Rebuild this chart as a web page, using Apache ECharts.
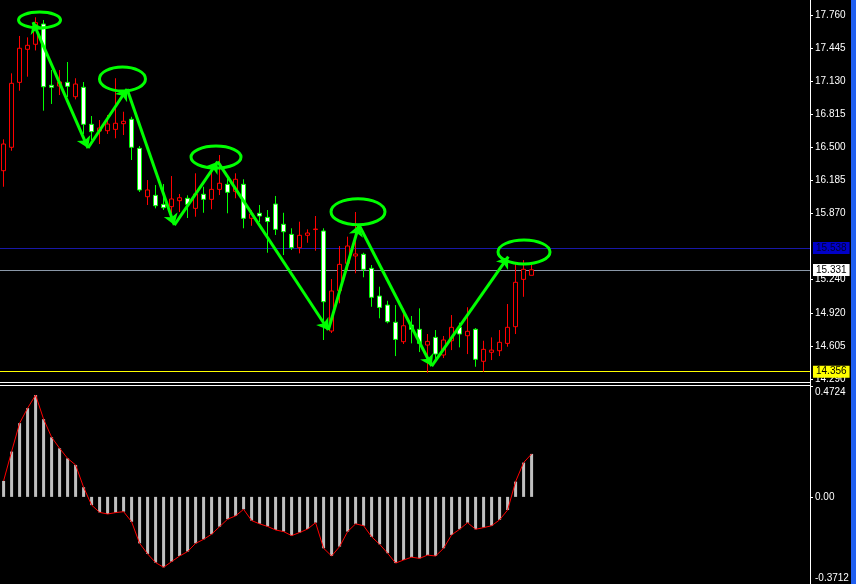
<!DOCTYPE html>
<html><head><meta charset="utf-8">
<script src="https://cdn.jsdelivr.net/npm/echarts@6/dist/echarts.min.js"></script>
<style>html,body{margin:0;padding:0;background:#000;}#c{width:856px;height:584px;}</style>
</head><body><div id="c"></div>
<script>
// ---- data ----
const opens = [16.276,16.499,17.118,17.433,17.481,17.674,17.090,17.083,17.118,16.981,
17.071,16.718,16.654,16.657,16.670,16.724,16.766,16.489,16.028,16.041,
15.955,15.933,15.990,16.013,15.917,16.051,16.003,16.098,16.146,16.079,
16.146,15.822,15.870,15.831,15.958,15.765,15.669,15.542,15.660,15.715,
15.701,14.748,15.132,15.393,15.463,15.479,15.345,15.081,14.995,14.831,
14.646,14.805,14.764,14.614,14.687,14.519,14.655,14.783,14.703,14.764,
14.459,14.545,14.560,14.630,14.789,15.240,15.279];
const closes = [16.530,17.109,17.443,17.471,17.687,17.076,17.071,17.121,17.080,17.102,
16.718,16.648,16.683,16.721,16.728,16.747,16.499,16.092,16.092,15.942,
15.923,16.006,16.018,15.955,16.054,16.003,16.098,16.156,16.070,16.194,
15.822,15.863,15.844,15.791,15.717,15.694,15.542,15.660,15.682,15.720,
15.027,15.129,15.383,15.558,15.482,15.336,15.069,14.973,14.836,14.668,
14.798,14.764,14.630,14.649,14.528,14.662,14.783,14.719,14.745,14.478,
14.573,14.566,14.640,14.783,15.212,15.336,15.331];
const highs = [16.575,17.204,17.560,17.547,17.738,17.712,17.236,17.236,17.312,17.157,
17.121,16.797,16.759,16.807,17.157,16.838,16.790,16.511,16.187,16.139,
16.149,16.225,16.054,16.041,16.251,16.123,16.266,16.425,16.203,16.251,
16.194,15.901,15.949,15.901,16.035,15.875,15.727,15.790,15.717,15.844,
15.727,15.243,15.558,15.647,15.882,15.494,15.377,15.170,15.036,14.995,
14.964,14.891,14.964,14.719,14.757,14.700,14.900,14.827,14.974,14.776,
14.655,14.687,14.757,15.005,15.396,15.424,15.377];
const lows = [16.123,16.466,17.038,17.172,17.422,16.848,16.912,16.997,16.978,16.956,
16.626,16.568,16.530,16.626,16.585,16.616,16.378,16.073,15.949,15.917,
15.901,15.872,15.882,15.825,15.837,15.875,15.908,16.044,15.870,16.013,
15.727,15.751,15.787,15.494,15.663,15.472,15.520,15.488,15.589,15.513,
14.662,14.729,15.012,15.329,15.298,15.260,14.979,14.869,14.821,14.509,
14.624,14.630,14.547,14.350,14.471,14.490,14.566,14.592,14.528,14.407,
14.359,14.471,14.509,14.598,14.719,15.074,15.279];
const macd = [0.068,0.193,0.314,0.378,0.434,0.331,0.254,0.207,0.164,0.136,
0.041,-0.035,-0.066,-0.073,-0.067,-0.063,-0.106,-0.198,-0.243,-0.280,
-0.300,-0.276,-0.252,-0.233,-0.198,-0.181,-0.159,-0.127,-0.095,-0.081,
-0.053,-0.101,-0.115,-0.126,-0.141,-0.148,-0.165,-0.152,-0.137,-0.110,
-0.219,-0.252,-0.212,-0.148,-0.115,-0.123,-0.170,-0.202,-0.240,-0.282,
-0.269,-0.257,-0.262,-0.248,-0.252,-0.219,-0.162,-0.138,-0.110,-0.138,
-0.131,-0.123,-0.098,-0.056,0.065,0.146,0.183];
const priceTicks = [17.760,17.445,17.130,16.815,16.500,16.185,15.870,15.240,14.920,14.605,14.290];
const macdTicks = [0.4724,0,-0.3712];
const levelValues = [15.538,15.331,14.356];
// zigzag annotation vertices [bar index, price]
const zigzag = [[3.675,17.693],[10.55,16.492],[15.43,17.055],[21.34,15.758],[26.76,16.362],
[40.59,14.757],[44.43,15.758],[53.51,14.414],[63.09,15.456]];
// ellipse annotation centres [bar index, price]
const ellipseCentres = [[4.49,17.712],[14.86,17.150],[26.55,16.406],[44.3,15.885],[65.05,15.501]];

// ---- style ----
const RADII = [[21,8],[23,12],[25,11],[27,13],[26,12]];
const LEVEL_STYLE = [
  {line:'#1818a8', bg:'#0000c8', fg:'#000030'},
  {line:'#8a98a8', bg:'#ffffff', fg:'#000000'},
  {line:'#ffff00', bg:'#ffff00', fg:'#000000'}
];
const FONT = 'Liberation Sans';
const XMIN = -0.45, XMAX = 100.8;

const candleData = opens.map((o,i)=>[i,o,closes[i],lows[i],highs[i]]);
const macdData = macd.map((v,i)=>[i,v]);
const segs = [];
for (let k=1;k<zigzag.length;k++) {
  const s = {coords:[zigzag[k-1],zigzag[k]]};
  if (k===1) s.symbol = ['arrow','arrow'];
  segs.push(s);
}

const chart = echarts.init(document.getElementById('c'), null, {renderer:'canvas'});
const option = {
  backgroundColor:'#000000',
  animation:false,
  grid:[
    {left:0, right:46, top:0, height:381, outerBoundsMode:'none', containLabel:false},
    {left:0, right:46, top:386, bottom:0, outerBoundsMode:'none', containLabel:false}
  ],
  xAxis:[
    {type:'value', gridIndex:0, min:XMIN, max:XMAX, show:false},
    {type:'value', gridIndex:1, min:XMIN, max:XMAX, show:false}
  ],
  yAxis:[
    {type:'value', gridIndex:0, position:'right', min:14.2713, max:17.903,
     splitLine:{show:false},
     axisLine:{show:true, onZero:false, lineStyle:{color:'#ffffff', width:1}},
     axisTick:{show:true, length:3, lineStyle:{color:'#ffffff'}, customValues:priceTicks},
     axisLabel:{color:'#ffffff', fontFamily:FONT, fontSize:10, margin:5,
       customValues:priceTicks, formatter:v=>v.toFixed(3)}},
    {type:'value', gridIndex:1, position:'right', min:-0.3712, max:0.4724,
     splitLine:{show:false},
     axisLine:{show:true, onZero:false, lineStyle:{color:'#ffffff', width:1}},
     axisTick:{show:true, length:3, lineStyle:{color:'#ffffff'}, customValues:macdTicks},
     axisLabel:{color:'#ffffff', fontFamily:FONT, fontSize:10, margin:5,
       customValues:macdTicks,
       formatter:v=> v===0 ? '0.00' : (v>0 ? '{top|'+v.toFixed(4)+'}' : '{bot|'+v.toFixed(4)+'}'),
       rich:{top:{padding:[12,0,0,0], fontFamily:FONT, fontSize:10, color:'#ffffff'},
             bot:{padding:[0,0,12,0], fontFamily:FONT, fontSize:10, color:'#ffffff'}}}}
  ],
  series:[
    {type:'candlestick', xAxisIndex:0, yAxisIndex:0, data:candleData, barWidth:5, z:3,
     itemStyle:{color:'#000000', borderColor:'#ff0000', color0:'#ffffff', borderColor0:'#00ff00', borderWidth:1},
     markLine:{silent:true, symbol:['none','none'], animation:false, z:1,
       data: levelValues.map((v,k)=>({yAxis:v,
         lineStyle:{color:LEVEL_STYLE[k].line, width:1, type:'solid'},
         label:{show:true, position:'end', distance:3, formatter:v.toFixed(3),
           backgroundColor:LEVEL_STYLE[k].bg, color:LEVEL_STYLE[k].fg,
           fontFamily:FONT, fontSize:10, padding:[1,3,0,3], lineHeight:11}}))}
    },
    {type:'bar', xAxisIndex:1, yAxisIndex:1, data:macdData, barWidth:3,
     itemStyle:{color:'#c0c0c0'}, z:2},
    {type:'line', xAxisIndex:1, yAxisIndex:1, data:macdData, symbol:'none',
     lineStyle:{color:'#ff0000', width:1}, z:3},
    {type:'lines', coordinateSystem:'cartesian2d', xAxisIndex:0, yAxisIndex:0, data:segs,
     symbol:['none','arrow'], symbolSize:11, z:10,
     lineStyle:{color:'#00ff00', width:3, opacity:1}}
  ]
};
chart.setOption(option);

const g = [];
ellipseCentres.forEach((c,k)=>{
  const p = chart.convertToPixel({xAxisIndex:0, yAxisIndex:0}, c);
  g.push({type:'ellipse', z:20, shape:{cx:p[0], cy:p[1], rx:RADII[k][0], ry:RADII[k][1]},
    style:{fill:null, stroke:'#00ff00', lineWidth:3}});
});
// pane separators, axis line across panes, window border
g.push({type:'line', z:15, shape:{x1:0,y1:382.5,x2:810,y2:382.5}, style:{stroke:'#ffffff',lineWidth:1}});
g.push({type:'line', z:15, shape:{x1:0,y1:385.5,x2:810,y2:385.5}, style:{stroke:'#ffffff',lineWidth:1}});
g.push({type:'line', z:15, shape:{x1:810.5,y1:0,x2:810.5,y2:584}, style:{stroke:'#ffffff',lineWidth:1}});
g.push({type:'rect', z:15, shape:{x:851,y:0,width:5,height:584}, style:{fill:'#1f5ff0'}});
chart.setOption({graphic:g});
</script>
</body></html>
